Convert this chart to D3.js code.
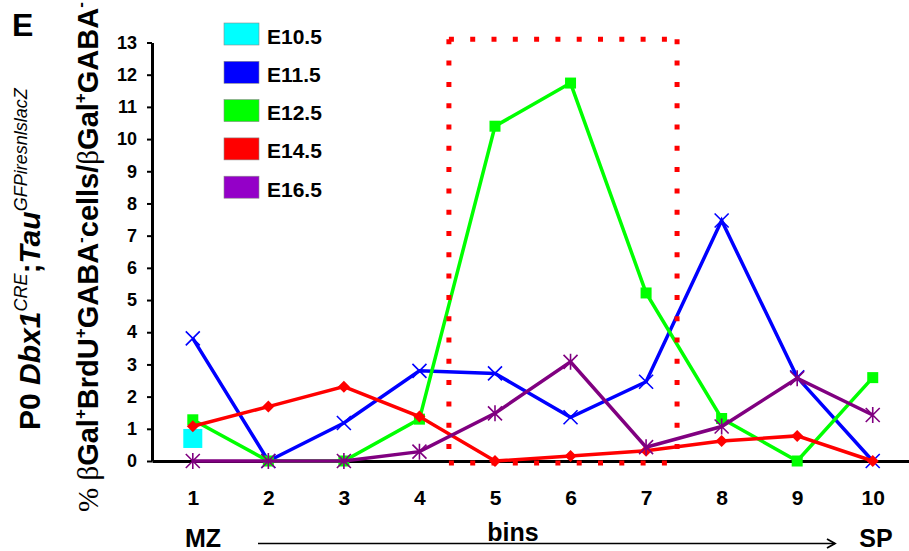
<!DOCTYPE html>
<html><head><meta charset="utf-8">
<script src="https://cdn.jsdelivr.net/npm/d3@7/dist/d3.min.js"></script>
<style>
html,body{margin:0;padding:0;background:#fff;}
svg{display:block;}
text{font-family:"Liberation Sans",Arial,sans-serif;}
</style></head>
<body>
<svg id="chart" width="909" height="551"></svg>
<script>
// ---- data ----
const bins = [1,2,3,4,5,6,7,8,9,10];
const seriesNames = ["E10.5","E11.5","E12.5","E14.5","E16.5"];
const e105 = [0.7, null, null, null, null, null, null, null, null, null];
const e115 = [3.81, 0, 1.18, 2.8, 2.72, 1.36, 2.46, 7.47, 2.6, 0];
const e125 = [1.28, 0, 0, 1.3, 10.4, 11.74, 5.22, 1.32, 0, 2.59];
const e145 = [1.08, 1.69, 2.31, 1.38, 0, 0.155, 0.32, 0.62, 0.78, 0];
const e165 = [0, 0, 0, 0.29, 1.48, 3.08, 0.43, 1.07, 2.57, 1.43];
const yTicks = [0,1,2,3,4,5,6,7,8,9,10,11,12,13];
const highlightBins = [4.39, 7.41];   // dotted box, in bin units
const highlightVals = [-0.06, 13.1];  // dotted box, in value units

const colors = ["#00ffff","#0000ff","#00ff00","#ff0000","#800080"];
const legendColors = ["#00ffff","#0000ff","#00ff00","#ff0000","#9400c8"];
const markers = ["bigsquare","cross","square","diamond","star"];
const seriesVals = [e105,e115,e125,e145,e165];

const svg = d3.select("#chart");
const x = d3.scaleLinear().domain([0.46, 10.48]).range([152, 909]);
const y = d3.scaleLinear().domain([0, 13]).range([461, 42.5]);

// y axis
const yAx = svg.append("g").attr("transform","translate(152,0)")
  .call(d3.axisLeft(y).tickValues(yTicks).tickSize(5).tickSizeOuter(0).tickPadding(10));
yAx.select(".domain").attr("stroke","#000").attr("stroke-width",3);
yAx.selectAll(".tick line").attr("stroke","#000").attr("stroke-width",2);
yAx.selectAll(".tick text").attr("font-size",18).attr("font-weight","bold")
  .attr("font-family","'Liberation Sans',Arial,sans-serif").attr("fill","#000");

// x axis
const xAx = svg.append("g").attr("transform","translate(0,461)")
  .call(d3.axisBottom(x).tickValues(bins).tickSize(0).tickSizeOuter(0).tickPadding(29));
xAx.select(".domain").attr("stroke","#000").attr("stroke-width",3);
xAx.selectAll(".tick text").attr("font-size",21).attr("font-weight","bold")
  .attr("font-family","'Liberation Sans',Arial,sans-serif").attr("fill","#000");

// series
const line = d3.line().defined(d => d.v !== null).x(d => x(d.b)).y(d => y(d.v));
seriesVals.forEach((vals, si) => {
  const pts = bins.map((b,i) => ({b, v: vals[i]}));
  const g = svg.append("g");
  g.append("path").datum(pts).attr("d", line).attr("fill","none")
    .attr("stroke", colors[si]).attr("stroke-width",3.5).attr("stroke-linejoin","miter");
  pts.filter(d => d.v !== null).forEach(d => {
    const cx = x(d.b), cy = y(d.v), c = colors[si];
    const m = markers[si];
    if (m === "bigsquare") {
      g.append("rect").attr("x",cx-9.5).attr("y",cy-9.5).attr("width",19).attr("height",19).attr("fill",c);
    } else if (m === "square") {
      g.append("rect").attr("x",cx-5.5).attr("y",cy-5.5).attr("width",11).attr("height",11).attr("fill",c);
    } else if (m === "diamond") {
      g.append("path").attr("d",`M${cx},${cy-6}L${cx+6},${cy}L${cx},${cy+6}L${cx-6},${cy}Z`).attr("fill",c);
    } else if (m === "cross") {
      const s = 7;
      g.append("path").attr("d",`M${cx-s},${cy-s}L${cx+s},${cy+s}M${cx-s},${cy+s}L${cx+s},${cy-s}`)
        .attr("stroke",c).attr("stroke-width",1.6).attr("fill","none");
    } else if (m === "star") {
      const s = 7;
      g.append("path").attr("d",`M${cx-s},${cy-s}L${cx+s},${cy+s}M${cx-s},${cy+s}L${cx+s},${cy-s}M${cx},${cy-s-1}L${cx},${cy+s+1}`)
        .attr("stroke",c).attr("stroke-width",1.6).attr("fill","none");
    }
  });
});

// dotted highlight box
const hx0 = x(highlightBins[0]), hx1 = x(highlightBins[1]);
const hy0 = y(highlightVals[0]), hy1 = y(highlightVals[1]);
const dot = {stroke:"#ff0000", w:5, dash:"5,16.3"};
[[hx0,hy1,hx1,hy1],[hx0,hy1,hx0,hy0],[hx1,hy1,hx1,hy0],[hx0,hy0,hx1,hy0]].forEach(s => {
  svg.append("line").attr("x1",s[0]).attr("y1",s[1]).attr("x2",s[2]).attr("y2",s[3])
    .attr("stroke",dot.stroke).attr("stroke-width",dot.w).attr("stroke-dasharray",dot.dash);
});

// legend
const lg = svg.append("g");
seriesNames.forEach((n,i) => {
  const ty = 23 + i*38.3;
  lg.append("rect").attr("x",224).attr("y",ty).attr("width",35).attr("height",22)
    .attr("fill",legendColors[i]).attr("stroke","#8a8a8a").attr("stroke-width",0.6);
  lg.append("text").attr("x",267).attr("y",ty+20.5).attr("font-size",21).attr("font-weight","bold").text(n);
});

// panel letter
svg.append("text").attr("x",12).attr("y",36).attr("font-size",32).attr("font-weight","bold").text("E");

// y label (outer)
const yl = svg.append("text").attr("transform","translate(98,512) rotate(-90)")
  .attr("font-size",29).attr("font-weight","bold");
yl.append("tspan").attr("font-family","'Liberation Serif',serif").attr("font-weight","normal").text("% β");
yl.append("tspan").text("Gal");
yl.append("tspan").attr("font-size",17).attr("dy",-12).text("+");
yl.append("tspan").attr("dy",12).text("BrdU");
yl.append("tspan").attr("font-size",17).attr("dy",-12).text("+");
yl.append("tspan").attr("dy",12).text("GABA");
yl.append("tspan").attr("font-size",17).attr("dy",-12).text("-");
yl.append("tspan").attr("dy",12).text("cells/");
yl.append("tspan").attr("font-family","'Liberation Serif',serif").attr("font-weight","normal").text("β");
yl.append("tspan").text("Gal");
yl.append("tspan").attr("font-size",17).attr("dy",-12).text("+");
yl.append("tspan").attr("dy",12).text("GABA");
yl.append("tspan").attr("font-size",17).attr("dy",-12).text("-");

// P0 label
const pl = svg.append("text").attr("transform","translate(40,430) rotate(-90)")
  .attr("font-size",30).attr("font-weight","bold");
pl.append("tspan").text("P0 ");
pl.append("tspan").attr("font-style","italic").text("Dbx1");
pl.append("tspan").attr("font-style","italic").attr("font-weight","normal").attr("font-size",18).attr("dy",-13).text("CRE");
pl.append("tspan").attr("dy",13).text(";");
pl.append("tspan").attr("font-style","italic").text("Tau");
pl.append("tspan").attr("font-style","italic").attr("font-weight","normal").attr("font-size",18).attr("dy",-13).text("GFPiresnlslacZ");

// bottom annotations
svg.append("text").attr("x",203).attr("y",547).attr("text-anchor","middle").attr("font-size",25).attr("font-weight","bold").text("MZ");
svg.append("text").attr("x",513).attr("y",541).attr("text-anchor","middle").attr("font-size",25).attr("font-weight","bold").text("bins");
svg.append("text").attr("x",876).attr("y",547).attr("text-anchor","middle").attr("font-size",25).attr("font-weight","bold").text("SP");
svg.append("line").attr("x1",258).attr("y1",543.5).attr("x2",835).attr("y2",543.5).attr("stroke","#000").attr("stroke-width",1.5);
svg.append("path").attr("d","M827,539L835,543.5L827,548").attr("fill","none").attr("stroke","#000").attr("stroke-width",1.8);
</script>
</body></html>
